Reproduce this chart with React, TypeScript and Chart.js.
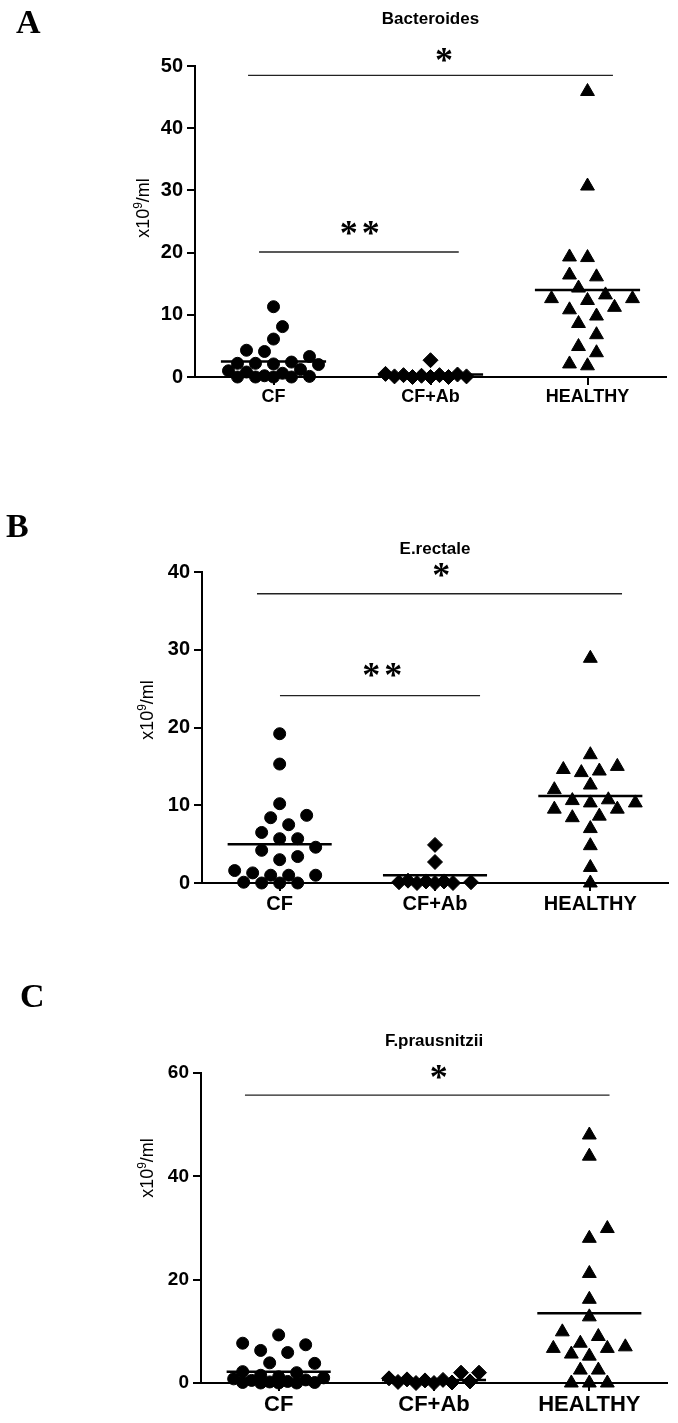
import React, { useEffect, useRef } from "react";
import { Chart, registerables } from "chart.js";

Chart.register(...registerables);

// ---------- data ----------
const categories = ["CF", "CF+Ab", "HEALTHY"];
const titles = ["Bacteroides", "E.rectale", "F.prausnitzii"];
const panelLetters = ["A", "B", "C"];
const yAxisLabelParts = ["x10", "9", "/ml"];

// Panel A – Bacteroides
const cfA = [11.3, 8.1, 6.1, 4.3, 4.1, 3.3, 2.4, 2.2, 2.2, 2.1, 2.0, 1.2, 1.0, 0.8, 0.6, 0.2, 0.1, 0.0, 0.0, 0.0, 0.0];
const cfabA = [2.7, 0.5, 0.4, 0.3, 0.3, 0.2, 0.1, 0.1, 0.0, 0.0, 0.0];
const healthyA = [45.9, 30.7, 19.3, 19.2, 16.4, 16.1, 14.3, 13.2, 12.6, 12.6, 12.3, 11.2, 10.8, 9.8, 8.6, 6.8, 4.9, 3.9, 2.1, 1.8];
const meansA = [2.5, 0.4, 14.0];
const yTicksA = [0, 10, 20, 30, 40, 50];
const sigLinesA = [
  { from: -0.162, to: 2.162, y: 48.5 },
  { from: -0.092, to: 1.18, y: 20.1 },
];
const starsA = [
  { x: 1.086, y: 51.3, text: "*" },
  { x: 0.55, y: 23.6, text: "**" },
];

// Panel B – E.rectale
const cfB = [19.2, 15.3, 10.2, 8.7, 8.4, 7.5, 6.5, 5.7, 5.7, 4.6, 4.2, 3.4, 3.0, 1.6, 1.3, 1.0, 1.0, 1.0, 0.1, 0.0, 0.0, 0.0];
const cfabB = [4.9, 2.7, 0.3, 0.2, 0.2, 0.1, 0.1, 0.0, 0.0, 0.0];
const healthyB = [28.9, 16.5, 15.0, 14.6, 14.4, 14.2, 12.6, 12.0, 10.7, 10.6, 10.3, 10.3, 9.5, 9.5, 8.6, 8.4, 7.0, 4.8, 2.0, 0.0];
const meansB = [5.0, 1.0, 11.2];
const yTicksB = [0, 10, 20, 30, 40];
const sigLinesB = [
  { from: -0.146, to: 2.204, y: 37.2 },
  { from: 0.002, to: 1.29, y: 24.1 },
];
const starsB = [
  { x: 1.04, y: 39.9, text: "*" },
  { x: 0.66, y: 27.0, text: "**" },
];

// Panel C – F.prausnitzii
const cfC = [9.3, 7.7, 7.4, 6.3, 5.9, 3.9, 3.8, 2.2, 2.0, 1.5, 1.2, 1.0, 0.8, 0.6, 0.5, 0.3, 0.2, 0.1, 0.1, 0.0, 0.0, 0.0];
const cfabC = [2.0, 2.0, 0.9, 0.7, 0.6, 0.5, 0.3, 0.2, 0.1, 0.0, 0.0];
const healthyC = [48.0, 43.9, 29.9, 28.0, 21.2, 16.2, 12.8, 9.9, 9.0, 7.7, 7.0, 6.7, 6.7, 5.6, 5.2, 2.5, 2.5, 0.0, 0.0, 0.0];
const meansC = [2.2, 0.6, 13.5];
const yTicksC = [0, 20, 40, 60];
const sigLinesC = [{ from: -0.217, to: 2.13, y: 55.7 }];
const starsC = [{ x: 1.03, y: 59.6, text: "*" }];

// ---------- layout / style (not data) ----------
const W = 678;
const layouts = [
  { top: 0, height: 420, chartTop: 66, chartBottom: 377, chartLeft: 195, chartRight: 666, titleY: 19, yTitleX: 143, yTitleY: 208, letterX: 16, letterBase: 33, tickFont: 20, catFont: 18 },
  { top: 500, height: 420, chartTop: 72, chartBottom: 383, chartLeft: 202, chartRight: 668, titleY: 49, yTitleX: 147, yTitleY: 210, letterX: 6, letterBase: 37, tickFont: 20, catFont: 20 },
  { top: 990, height: 433, chartTop: 83, chartBottom: 393, chartLeft: 201, chartRight: 667, titleY: 51, yTitleX: 147, yTitleY: 178, letterX: 20, letterBase: 17, tickFont: 19, catFont: 22 },
];
const pointStyles = ["circle", "rectRot", "triangle"];
const pointRadii = [6, 7.5, 8];

const panels = [
  { groups: [cfA, cfabA, healthyA], means: meansA, yTicks: yTicksA, sig: sigLinesA, stars: starsA },
  { groups: [cfB, cfabB, healthyB], means: meansB, yTicks: yTicksB, sig: sigLinesB, stars: starsB },
  { groups: [cfC, cfabC, healthyC], means: meansC, yTicks: yTicksC, sig: sigLinesC, stars: starsC },
];

// beeswarm placement computed from the chart's own scales (balanced left/right)
function swarm(xs: any, ys: any, values: number[], center: number): number[] {
  const minDist = 15, step = 9, maxOff = 48;
  const order = values.map((_, i) => i).sort((a, b) => values[a] - values[b]);
  const placed: { px: number; py: number; off: number }[] = [];
  const out: number[] = new Array(values.length);
  const cx = xs.getPixelForValue(center);
  for (const i of order) {
    const py = ys.getPixelForValue(values[i]);
    const left = placed.filter((p) => p.off < 0).length;
    const right = placed.filter((p) => p.off > 0).length;
    const sign = left <= right ? -1 : 1;
    const cands: number[] = [0];
    for (let k = 1; k * step <= maxOff; k++) cands.push(sign * k * step, -sign * k * step);
    let chosen: number | null = null;
    let best = 0, bestScore = -1;
    for (const off of cands) {
      let md = Infinity;
      for (const p of placed) md = Math.min(md, Math.hypot(p.px - (cx + off), p.py - py));
      if (md >= minDist) { chosen = off; break; }
      if (md > bestScore) { bestScore = md; best = off; }
    }
    if (chosen === null) chosen = best;
    placed.push({ px: cx + chosen, py, off: chosen });
    out[i] = xs.getValueForPixel(cx + chosen);
  }
  return out;
}

const annotPlugin = {
  id: "annot",
  afterDatasetsDraw(chart: any, _args: any, opts: any) {
    const { ctx, scales } = chart;
    const xs = scales.x, ys = scales.y;
    ctx.save();
    ctx.fillStyle = "#000";
    ctx.textAlign = "center";
    ctx.textBaseline = "middle";
    ctx.font = 'bold 36px "Liberation Serif"';
    for (const s of opts.stars || []) {
      const multi = s.text.length > 1;
      (ctx as any).letterSpacing = multi ? "4px" : "0px";
      ctx.fillText(s.text, xs.getPixelForValue(s.x) + (multi ? 2 : 0), ys.getPixelForValue(s.y) + 5);
    }
    (ctx as any).letterSpacing = "0px";
    // y-axis title with superscript
    const L = opts.layout;
    ctx.translate(L.yTitleX, L.yTitleY);
    ctx.rotate(-Math.PI / 2);
    const big = '18px "Liberation Sans"', small = '12px "Liberation Sans"';
    ctx.font = big; const w1 = ctx.measureText(yAxisLabelParts[0]).width;
    ctx.font = small; const w2 = ctx.measureText(yAxisLabelParts[1]).width;
    ctx.font = big; const w3 = ctx.measureText(yAxisLabelParts[2]).width;
    const x0 = -(w1 + w2 + w3) / 2;
    ctx.textAlign = "left";
    ctx.textBaseline = "alphabetic";
    ctx.font = big; ctx.fillText(yAxisLabelParts[0], x0, 6);
    ctx.font = small; ctx.fillText(yAxisLabelParts[1], x0 + w1, -1);
    ctx.font = big; ctx.fillText(yAxisLabelParts[2], x0 + w1 + w2, 6);
    ctx.restore();
  },
};

function Panel({ idx }: { idx: number }) {
  const ref = useRef<HTMLCanvasElement>(null);
  const L = layouts[idx];
  const P = panels[idx];
  useEffect(() => {
    const datasets: any[] = [];
    P.groups.forEach((vals, gi) => {
      datasets.push({
        type: "scatter",
        data: vals.map((v) => ({ x: gi, y: v })),
        pointStyle: pointStyles[gi],
        pointRadius: pointRadii[gi],
        pointBackgroundColor: "#000",
        pointBorderColor: "#000",
        pointBorderWidth: 1,
        clip: false,
      });
    });
    P.means.forEach((m, gi) => {
      datasets.push({
        type: "line",
        data: [{ x: gi - 0.335, y: m }, { x: gi + 0.335, y: m }],
        borderColor: "#000",
        borderWidth: 2.5,
        pointRadius: 0,
        clip: false,
      });
    });
    P.sig.forEach((s) => {
      datasets.push({
        type: "line",
        data: [{ x: s.from, y: s.y }, { x: s.to, y: s.y }],
        borderColor: "#222",
        borderWidth: 1.3,
        pointRadius: 0,
        clip: false,
      });
    });
    const lh = 17 * 1.2;
    const chart = new Chart(ref.current!, {
      type: "scatter",
      data: { datasets },
      plugins: [annotPlugin as any],
      options: {
        animation: false,
        responsive: false,
        devicePixelRatio: 1,
        events: [],
        layout: { padding: { left: 0, right: W - L.chartRight, top: 0, bottom: 0 } },
        plugins: {
          legend: { display: false },
          tooltip: { enabled: false },
          title: {
            display: true,
            text: titles[idx],
            fullSize: false,
            color: "#000",
            font: { family: "Liberation Sans", size: 17, weight: "bold" },
            padding: { top: L.titleY - lh / 2, bottom: L.chartTop - L.titleY - lh / 2 },
          },
          annot: { stars: P.stars, layout: { yTitleX: L.yTitleX, yTitleY: L.yTitleY } },
        } as any,
        scales: {
          x: {
            type: "linear",
            min: -0.5,
            max: 2.5,
            afterBuildTicks: (s: any) => { s.ticks = categories.map((_, i) => ({ value: i })); },
            afterFit: (s: any) => { s.height = L.height - L.chartBottom; },
            ticks: {
              autoSkip: false,
              maxRotation: 0,
              padding: 1,
              color: "#000",
              font: { family: "Liberation Sans", size: L.catFont, weight: "bold" },
              callback: (v: any) => categories[Math.round(Number(v))] ?? "",
            },
            grid: { display: true, drawOnChartArea: false, drawTicks: true, tickLength: 8, color: "#000", lineWidth: 2 },
            border: { display: true, color: "#000", width: 2 },
          },
          y: {
            type: "linear",
            min: 0,
            max: P.yTicks[P.yTicks.length - 1],
            afterBuildTicks: (s: any) => { s.ticks = P.yTicks.map((v) => ({ value: v })); },
            afterFit: (s: any) => { s.width = L.chartLeft; },
            ticks: {
              padding: 4,
              color: "#000",
              font: { family: "Liberation Sans", size: L.tickFont, weight: "bold" },
            },
            grid: { display: true, drawOnChartArea: false, drawTicks: true, tickLength: 8, color: "#000", lineWidth: 2 },
            border: { display: true, color: "#000", width: 2 },
          },
        },
      },
    });
    const xs = chart.scales.x, ys = chart.scales.y;
    P.groups.forEach((vals, gi) => {
      const xv = swarm(xs, ys, vals, gi);
      chart.data.datasets[gi].data = vals.map((v, i) => ({ x: xv[i], y: v })) as any;
    });
    chart.update("none");
    return () => chart.destroy();
  }, []);
  return (
    <canvas
      ref={ref}
      width={W}
      height={L.height}
      style={{ position: "absolute", left: 0, top: L.top, width: W, height: L.height }}
    />
  );
}

export default function App() {
  return (
    <div style={{ position: "absolute", left: 0, top: 0, width: W, height: 1423, background: "#fff" }}>
      {layouts.map((L, i) => (
        <React.Fragment key={i}>
          <Panel idx={i} />
          <div
            style={{
              position: "absolute",
              left: L.letterX,
              top: L.top + L.letterBase - 28.5,
              font: 'bold 34px "Liberation Serif"',
              lineHeight: "34px",
              color: "#000",
            }}
          >
            {panelLetters[i]}
          </div>
        </React.Fragment>
      ))}
    </div>
  );
}
